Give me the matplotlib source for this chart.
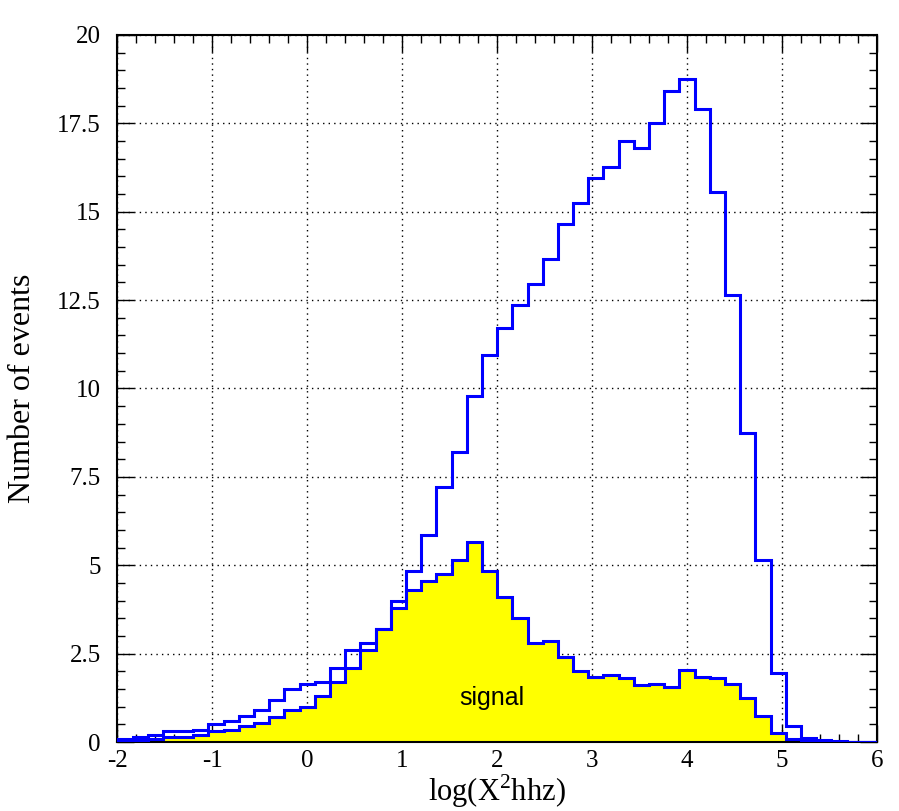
import numpy as np
import matplotlib.pyplot as plt
from matplotlib.ticker import MultipleLocator

plt.rcParams['font.family'] = 'Liberation Serif'
plt.rcParams['mathtext.fontset'] = 'custom'
plt.rcParams['mathtext.rm'] = 'Liberation Serif'
plt.rcParams['axes.unicode_minus'] = False

edges = np.linspace(-2, 6, 51)

total = [0.1, 0.15, 0.2, 0.3, 0.3, 0.35, 0.5, 0.6, 0.75, 0.9,
         1.2, 1.5, 1.65, 1.7, 2.1, 2.6, 2.8, 3.2, 4.0, 4.85,
         5.85, 7.2, 8.2, 9.8, 10.95, 11.7, 12.35, 12.95, 13.65, 14.65,
         15.25, 15.95, 16.25, 17.0, 16.8, 17.5, 18.4, 18.75, 17.9, 15.55,
         12.65, 8.75, 5.15, 1.95, 0.45, 0.12, 0.05, 0.02, 0.0, 0.0]

signal = [0.05, 0.05, 0.1, 0.15, 0.15, 0.2, 0.3, 0.35, 0.45, 0.55,
          0.7, 0.9, 1.0, 1.3, 1.7, 2.1, 2.6, 3.2, 3.8, 4.3,
          4.55, 4.75, 5.15, 5.65, 4.85, 4.1, 3.5, 2.8, 2.85, 2.4,
          2.0, 1.85, 1.9, 1.8, 1.6, 1.65, 1.55, 2.05, 1.85, 1.8,
          1.65, 1.25, 0.75, 0.25, 0.1, 0.03, 0.0, 0.0, 0.0, 0.0]

fig = plt.figure(figsize=(8.99, 8.11), dpi=100)
ax = fig.add_axes([0.1305, 0.085, 0.845, 0.872])

ax.stairs(signal, edges, fill=True, color='yellow', zorder=2)
ax.stairs(signal, edges, color='blue', lw=2.2, zorder=3)
ax.stairs(total, edges, color='blue', lw=2.2, zorder=4)

ax.text(1.94, 1.25, 'signal', family='Liberation Sans', fontsize=18,
        ha='center', va='center', zorder=5)

ax.set_xlim(-2, 6)
ax.set_ylim(0, 20)
ax.xaxis.set_major_locator(MultipleLocator(1))
ax.xaxis.set_minor_locator(MultipleLocator(0.2))
ax.yaxis.set_minor_locator(MultipleLocator(0.5))
ax.set_yticks(np.arange(0, 20.1, 2.5))
ax.set_yticklabels(['0', '2.5', '5', '7.5', '10', '12.5', '15', '17.5', '20'])

ax.tick_params(which='both', direction='in', top=True, right=True, labelsize=18)
ax.tick_params(which='major', length=12, width=1)
ax.tick_params(which='minor', length=6, width=1)
ax.tick_params(axis='x', pad=6)
ax.tick_params(axis='y', pad=12)

ax.grid(True, which='major', color='black', linestyle=(0, (1, 3)), lw=1)
ax.set_axisbelow(True)
for s in ax.spines.values():
    s.set_linewidth(1.5)

ax.set_xlabel(r'log(X$^{2}$hhz)', fontsize=22, labelpad=0)
ax.set_ylabel('Number of events', fontsize=23, labelpad=14)

fig.savefig('out.png', dpi=100)
